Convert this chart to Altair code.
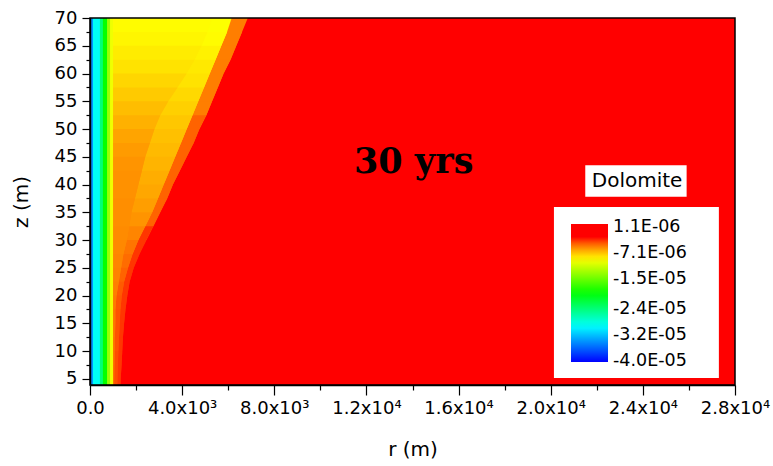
import altair as alt
import pandas as pd

# ---------------- data ----------------
# depth levels (m), top to bottom; the last one lies below the plotted range
z_levels = [70, 67.5, 65, 62.5, 60, 57.5, 55, 52.5, 50, 47.5, 45, 42.5, 40, 37.5,
            35, 32.5, 30, 27.5, 25, 22.5, 20, 17.5, 15, 12.5, 10, 7.5, 5, 2.5]

# outer radius (m) of each zone at each depth level
core_r = [5300, 5100, 4850, 4550, 4200, 3800, 3400, 3050, 2800, 2600, 2400, 2250,
          2100, 1950, 1800, 1700, 1600, 1450, 1350, 1250, 1150, 1100, 1100, 1080,
          1070, 1060, 1050, 1050]
rim_r = [6150, 5950, 5700, 5450, 5200, 4950, 4700, 4450, 4200, 3950, 3700, 3450,
         3200, 2950, 2700, 2400, 2100, 1850, 1650, 1480, 1380, 1320, 1290, 1260,
         1230, 1210, 1190, 1180]
red_r = [6850, 6600, 6350, 6100, 5800, 5550, 5300, 5050, 4750, 4500, 4200, 3900,
         3600, 3350, 3050, 2750, 2450, 2150, 1900, 1720, 1620, 1540, 1480, 1430,
         1400, 1370, 1330, 1310]

# value in each zone between two consecutive levels
core_v = [-8.8e-6, -8.6e-6, -8.3e-6, -8.0e-6, -7.6e-6, -7.2e-6, -6.8e-6, -6.4e-6,
          -6.0e-6, -5.7e-6, -5.5e-6, -5.4e-6, -5.4e-6, -5.3e-6, -5.3e-6, -5.2e-6,
          -5.1e-6, -5.0e-6, -4.9e-6, -4.8e-6, -4.7e-6, -4.6e-6, -4.6e-6, -4.5e-6,
          -4.5e-6, -4.4e-6, -4.4e-6]
rim_v = [-9.0e-6, -8.8e-6, -8.5e-6, -8.2e-6, -8.0e-6, -7.7e-6, -7.4e-6, -7.1e-6,
         -6.9e-6, -6.7e-6, -6.5e-6, -6.3e-6, -6.1e-6, -5.8e-6, -5.5e-6, -5.0e-6,
         -4.6e-6, -4.4e-6, -4.2e-6, -4.0e-6, -3.9e-6, -3.8e-6, -3.8e-6, -3.8e-6,
         -3.7e-6, -3.7e-6, -3.7e-6]
front_v = [-4.8e-6, -4.8e-6, -4.8e-6, -4.8e-6, -4.8e-6, -4.8e-6, -4.8e-6,
           -4.2e-6, -4.2e-6, -4.2e-6, -4.2e-6, -4.2e-6, -4.2e-6, -4.2e-6, -4.2e-6,
           -3.2e-6, -3.2e-6, -3.2e-6, -3.2e-6, -3.2e-6, -3.2e-6, -3.2e-6, -3.2e-6,
           -3.2e-6, -3.2e-6, -3.2e-6, -3.2e-6]

# strip next to the well (same at every depth): outer radius of each band
strip_r_edges = [0, 130, 430, 560, 740, 870, 1000]
strip_values = [-3.4e-5, -2.9e-5, -2.4e-5, -1.9e-5, -1.3e-5, -9.5e-6]
background_value = 1.1e-6

# colour bar (ends of the bar lie just beyond the first and last labels)
color_stops = [-4.03e-5, -2.94e-5, -1.92e-5, -8.9e-6, -4.85e-6, -2.0e-6, 1.9e-6]
color_range = ["#0000ff", "#00ffff", "#00ff00", "#ffff00", "#ff8000", "#ff0000", "#ff0000"]
legend_values = [1.1e-6, -7.1e-6, -1.5e-5, -2.4e-5, -3.2e-5, -4.0e-5]
legend_labels = ["1.1E-06", "-7.1E-06", "-1.5E-05", "-2.4E-05", "-3.2E-05", "-4.0E-05"]

# axes
x_major = [0, 4000, 8000, 12000, 16000, 20000, 24000, 28000]
x_labels = ["0.0", "4.0x10³", "8.0x10³", "1.2x10⁴", "1.6x10⁴", "2.0x10⁴", "2.4x10⁴", "2.8x10⁴"]
x_minor = [2000, 6000, 10000, 14000, 18000, 22000, 26000]
y_major = [5, 10, 15, 20, 25, 30, 35, 40, 45, 50, 55, 60, 65, 70]
y_minor = [7.5, 12.5, 17.5, 22.5, 27.5, 32.5, 37.5, 42.5, 47.5, 52.5, 57.5, 62.5, 67.5]
x_domain = [0, 28000]
y_domain = [3.9, 70]

# annotations
ann_text = ["30 yrs"]
ann_r = [14050]
ann_z = [42.0]
box_text = ["Dolomite"]
box_r = [23750]
box_z = [40.6]
box_r0, box_r1, box_z0, box_z1 = [21500], [25900], [37.8], [43.5]
# white panel behind the colour bar
panel_r0, panel_r1, panel_z0, panel_z1 = [20140], [27300], [5.15], [35.95]

# ---------------- tables for the marks ----------------
def zone_table(outer, values, name):
    recs = []
    n = len(z_levels)
    for i, v in enumerate(values):
        ks = [i, i + 1] + ([i + 2] if i + 2 < n else [])   # overlap hides seams
        for k in ks:
            recs.append({"seg": f"{name}{i:02d}", "z": z_levels[k],
                         "r_out": outer[k], "r_in": 0, "v": v})
    return pd.DataFrame(recs)

front_df = zone_table(red_r, front_v, "f")
rim_df = zone_table(rim_r, rim_v, "r")
core_df = zone_table(core_r, core_v, "c")
strip_df = pd.DataFrame({"r0": [0] * len(strip_values), "r1": strip_r_edges[1:],
                         "z0": [z_levels[-1]] * len(strip_values),
                         "z1": [z_levels[0]] * len(strip_values), "v": strip_values,
                         "o": list(range(len(strip_values)))})
back_df = pd.DataFrame({"r0": [x_domain[0]], "r1": [x_domain[1]],
                        "z0": [z_levels[-1]], "z1": [z_levels[0]], "v": [background_value]})

FONT = "DejaVu Sans"

x_all = sorted(x_major + x_minor)
y_all = sorted(y_major + y_minor)
legend_label_expr = "[%s][indexof([%s], datum.value)]" % (
    ",".join("'" + lab + "'" for lab in legend_labels),
    ",".join(repr(v) for v in legend_values))
x_label_expr = "indexof([%s], datum.value) >= 0 ? [%s][indexof([%s], datum.value)] : ''" % (
    ",".join(str(v) for v in x_major),
    ",".join("'" + s + "'" for s in x_labels),
    ",".join(str(v) for v in x_major))
y_label_expr = "indexof([%s], datum.value) >= 0 ? format(datum.value, 'd') : ''" % (
    ",".join(str(v) for v in y_major))

cscale = alt.Scale(domain=color_stops, range=color_range, interpolate="rgb")
xscale = alt.Scale(domain=x_domain, nice=False, zero=False)
yscale = alt.Scale(domain=y_domain, nice=False, zero=False)

x_axis = alt.Axis(values=x_all, labelExpr=x_label_expr, title="r (m)",
                  tickSize={"condition": {"test": "datum.value % 4000 === 0", "value": 10}, "value": 5},
                  labelPadding=4, labelFlush=False, labelOverlap=False,
                  titlePadding=22, zindex=1)
y_axis = alt.Axis(values=y_all, labelExpr=y_label_expr, title="z (m)",
                  tickSize={"condition": {"test": "datum.value % 5 === 0", "value": 8}, "value": 4},
                  labelPadding=5, labelFlush=False, labelOverlap=False,
                  titlePadding=23, zindex=1)

legend = alt.Legend(type="gradient", orient="none", legendX=481, legendY=206,
                    direction="vertical", padding=0, title=None, values=legend_values,
                    labelExpr=legend_label_expr,
                    gradientLength=138, gradientThickness=37,
                    gradientStrokeWidth=0,
                    labelFont=FONT, labelFontSize=17.5,
                    labelColor="black", labelOffset=5, labelOverlap=False)
color_enc = alt.Color("v:Q", scale=cscale, legend=legend)


def X(f):
    return alt.X(f, scale=xscale, axis=x_axis)


def Y(f):
    return alt.Y(f, scale=yscale, axis=y_axis)


back = alt.Chart(back_df).mark_rect(clip=True).encode(
    x=X("r0:Q"), x2="r1:Q", y=Y("z0:Q"), y2="z1:Q", color=color_enc)


def zone_layer(df):
    return alt.Chart(df).mark_area(orient="horizontal", clip=True).encode(
        x=X("r_out:Q"), x2="r_in:Q", y=Y("z:Q"),
        detail="seg:N", color=color_enc)


front = zone_layer(front_df)
rim = zone_layer(rim_df)
core = zone_layer(core_df)

strip = alt.Chart(strip_df).mark_rect(clip=True).encode(
    x=X("r0:Q"), x2="r1:Q", y=Y("z0:Q"), y2="z1:Q",
    color=color_enc, order=alt.Order("o:Q", sort="descending"))

ann = alt.Chart(pd.DataFrame({"t": ann_text, "r": ann_r, "z": ann_z})).mark_text(
    font="DejaVu Serif", fontSize=35, fontWeight="bold", color="black",
    align="center", baseline="alphabetic").encode(
    x=X("r:Q"), y=Y("z:Q"), text="t:N")

box_df = pd.DataFrame({"t": box_text, "r": box_r, "z": box_z,
                       "r0": box_r0, "r1": box_r1, "z0": box_z0, "z1": box_z1})
box_bg = alt.Chart(box_df).mark_rect(color="white").encode(
    x=X("r0:Q"), x2="r1:Q", y=Y("z0:Q"), y2="z1:Q")
box_tx = alt.Chart(box_df).mark_text(
    font=FONT, fontSize=20, color="black", align="center", baseline="middle").encode(
    x=X("r:Q"), y=Y("z:Q"), text="t:N")

panel_df = pd.DataFrame({"r0": panel_r0, "r1": panel_r1, "z0": panel_z0, "z1": panel_z1})
panel = alt.Chart(panel_df).mark_rect(color="white").encode(
    x=X("r0:Q"), x2="r1:Q", y=Y("z0:Q"), y2="z1:Q")

frame = alt.Chart(pd.DataFrame({"a": [0]})).mark_rect(
    fillOpacity=0, stroke="black", strokeWidth=1.5).encode(
    x=alt.value(0), x2=alt.value(645), y=alt.value(0), y2=alt.value(367))

chart = alt.layer(back, front, rim, core, strip, ann, box_bg, box_tx, panel, frame).properties(
    width=645, height=367,
    autosize=alt.AutoSizeParams(type="none"),
    padding={"left": 90, "top": 18, "right": 38, "bottom": 81},
    background="white",
).configure_axis(
    domainColor="black", domainWidth=1.5, tickColor="black", tickWidth=1.2,
    labelFont=FONT, labelFontSize=18, labelColor="black", labelOverlap=False,
    titleFont=FONT, titleFontSize=20, titleFontWeight="normal", titleColor="black",
    grid=False,
).configure_legend(
    gradientThickness=37, gradientLength=138, gradientHorizontalMaxLength=138,
    gradientVerticalMaxLength=138, gradientVerticalMinLength=138,
).configure_view(stroke=None)

chart.save("out.html", embed_options={"renderer": "svg", "actions": False})
